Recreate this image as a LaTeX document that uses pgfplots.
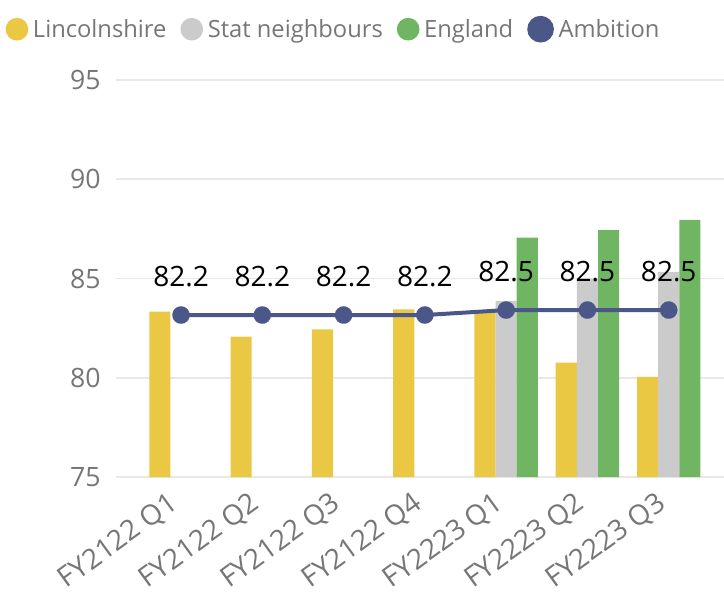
\documentclass[border=0pt]{standalone}
\usepackage{fontspec}
\setmainfont{Open Sans}
\usepackage{pgfplots}
\pgfplotsset{compat=1.18}
\definecolor{cLin}{HTML}{EBC843}
\definecolor{cStat}{HTML}{CBCBCB}
\definecolor{cEng}{HTML}{70B662}
\definecolor{cAmb}{HTML}{4B5789}
\definecolor{cTick}{HTML}{767676}
\definecolor{cGrid}{HTML}{E8E8E8}
\begin{document}
\begin{tikzpicture}
\path[use as bounding box] (-87pt,-87.75pt) rectangle (456pt,357.75pt);
\begin{axis}[
  at={(0pt,0pt)}, anchor=south west,
  scale only axis, width=456pt, height=297.75pt,
  xmin=-0.8, xmax=6.68, ymin=75, ymax=95,
  ytick={75,80,85,90,95},
  xtick={0,1,2,3,4,5,6},
  xticklabels={FY2122 Q1,FY2122 Q2,FY2122 Q3,FY2122 Q4,FY2223 Q1,FY2223 Q2,FY2223 Q3},
  axis line style={draw=none},
  major tick length=0pt,
  ymajorgrids, grid style={cGrid, line width=1.2pt},
  /pgf/number format/assume math mode=true,
  yticklabel style={font=\fontsize{20}{20}\selectfont, text=cTick, xshift=-8pt},
  xticklabel style={font=\fontsize{21}{21}\selectfont, text=cTick, rotate=36, anchor=north east, inner sep=1pt, xshift=-13pt, yshift=-1pt},
  legend style={draw=none, fill=none, legend columns=-1, at={(-0.182,1.128)}, anchor=west,
    font=\fontsize{17.8}{17.8}\selectfont, text=cTick, inner sep=0pt,
    /tikz/every even column/.append style={column sep=8.5pt},
    /tikz/every odd column/.append style={column sep=1.5pt}},
  legend cell align=left,
]
\addplot[ybar, bar width=0.26, bar shift=-0.26, fill=cLin, draw=none,
  legend image code/.code={\fill[cLin] (6pt,0pt) circle (8.5pt);}]
  coordinates {(0,83.33) (1,82.07) (2,82.44) (3,83.45) (4,83.33) (5,80.76) (6,80.05)};
\addlegendentry{Lincolnshire}
\addplot[ybar, bar width=0.26, bar shift=0, fill=cStat, draw=none,
  legend image code/.code={\fill[cStat] (6pt,0pt) circle (8.5pt);}]
  coordinates {(4,83.87) (5,85.0) (6,85.34)};
\addlegendentry{Stat neighbours}
\addplot[ybar, bar width=0.26, bar shift=0.26, fill=cEng, draw=none,
  legend image code/.code={\fill[cEng] (6pt,0pt) circle (8.5pt);}]
  coordinates {(4,87.06) (5,87.44) (6,87.95)};
\addlegendentry{England}
\addplot[cAmb, line width=3pt, mark=*, mark size=6.5pt,
  mark options={solid, fill=cAmb, draw=cAmb, line width=0.1pt},
  point meta=explicit symbolic, nodes near coords,
  nodes near coords style={font=\fontsize{21}{21}\selectfont, text=black, anchor=center, yshift=29pt},
  legend image code/.code={\fill[cAmb] (6pt,0pt) circle (8.5pt);}]
  table[meta=lab] {
x y lab
0 83.16 82.2
1 83.16 82.2
2 83.16 82.2
3 83.16 82.2
4 83.41 82.5
5 83.41 82.5
6 83.41 82.5
};
\addlegendentry{Ambition}
\end{axis}
\end{tikzpicture}
\end{document}
